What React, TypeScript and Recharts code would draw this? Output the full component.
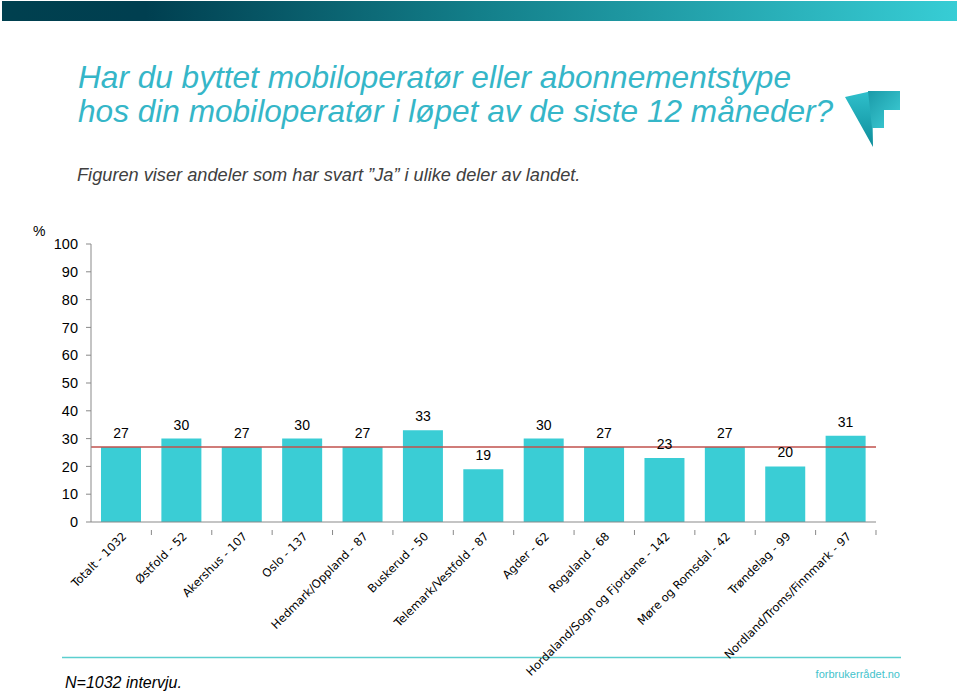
import React from "react";
import { BarChart, Bar, XAxis, YAxis, ReferenceLine, LabelList } from "recharts";

const regions = [
  "Totalt - 1032",
  "Østfold - 52",
  "Akershus - 107",
  "Oslo - 137",
  "Hedmark/Oppland - 87",
  "Buskerud - 50",
  "Telemark/Vestfold - 87",
  "Agder - 62",
  "Rogaland - 68",
  "Hordaland/Sogn og Fjordane - 142",
  "Møre og Romsdal - 42",
  "Trøndelag - 99",
  "Nordland/Troms/Finnmark - 97",
];
const andelJa = [27, 30, 27, 30, 27, 33, 19, 30, 27, 23, 27, 20, 31];
const totalt = 27;
const yTicks = [0, 10, 20, 30, 40, 50, 60, 70, 80, 90, 100];

const data = regions.map((r, i) => ({ region: r, ja: andelJa[i] }));

// plot area
const PLOT_LEFT = 91;
const PLOT_RIGHT = 876;
const BAND = (PLOT_RIGHT - PLOT_LEFT) / regions.length;

const RegionTick = (props: any) => {
  const { x, y, payload } = props;
  return (
    <g transform={`translate(${x},${y})`}>
      <line x1={BAND / 2} y1={0} x2={BAND / 2} y2={5} stroke="#898989" />
      <text
        x={0}
        y={0}
        transform="translate(6,7) rotate(-45)"
        textAnchor="end"
        fontFamily="DejaVu Sans, Verdana, sans-serif"
        fontSize={11.5}
        fill="#000"
      >
        {payload.value}
      </text>
    </g>
  );
};

export default function App() {
  return (
    <div style={{ position: "absolute", left: 0, top: 0, width: 960, height: 693, background: "#fff", overflow: "hidden" }}>
      <svg width={960} height={693} style={{ position: "absolute", left: 0, top: 0 }}>
        <defs>
          <linearGradient id="topbar" x1="0" y1="0" x2="1" y2="0">
            <stop offset="0" stopColor="#00404f" />
            <stop offset="0.15" stopColor="#003f50" />
            <stop offset="0.5" stopColor="#137f8a" />
            <stop offset="1" stopColor="#37cdd5" />
          </linearGradient>
          <linearGradient id="logoA" x1="0" y1="0" x2="0" y2="1">
            <stop offset="0" stopColor="#2fc0cc" />
            <stop offset="1" stopColor="#0e8d9a" />
          </linearGradient>
          <linearGradient id="logoB" x1="0" y1="0" x2="1" y2="1">
            <stop offset="0" stopColor="#1a9aa8" />
            <stop offset="1" stopColor="#40d0d8" />
          </linearGradient>
        </defs>
        <rect x={2} y={1} width={955} height={20} fill="url(#topbar)" />

        <g fontFamily="Liberation Sans, Arial, sans-serif" fontStyle="italic">
          <text x={78} y={88} fontSize={31.6} fill="#35b6c8">
            Har du byttet mobiloperatør eller abonnementstype
          </text>
          <text x={78} y={122} fontSize={31.6} fill="#35b6c8">
            hos din mobiloperatør i løpet av de siste 12 måneder?
          </text>
          <text x={77} y={181} fontSize={18.2} fill="#404040">
            Figuren viser andeler som har svart ”Ja” i ulike deler av landet.
          </text>
        </g>

        {/* logo */}
        <path d="M845,97 L872,91 L873,147 Q858,120 845,97 Z" fill="url(#logoA)" />
        <path d="M868,91 L900,91 L900,110 L884,110 L884,128 L872,128 Z" fill="url(#logoB)" />

        <text x={33} y={236} fontFamily="Liberation Sans, Arial, sans-serif" fontSize={14} fill="#000">
          %
        </text>

        <line x1={62} y1={657.5} x2={901} y2={657.5} stroke="#5ccfcf" strokeWidth={1.5} />
        <text x={65} y={688} fontFamily="Liberation Sans, Arial, sans-serif" fontStyle="italic" fontSize={16} fill="#000">
          N=1032 intervju.
        </text>
        <text
          x={900}
          y={678}
          textAnchor="end"
          fontFamily="Liberation Sans Narrow, Liberation Sans, Arial, sans-serif"
          fontSize={11}
          fill="#44c3cc"
        >
          forbrukerrådet.no
        </text>
      </svg>

      <div style={{ position: "absolute", left: 0, top: 0 }}>
        <BarChart
          width={960}
          height={693}
          data={data}
          margin={{ top: 244, right: 960 - PLOT_RIGHT, left: PLOT_LEFT - 40, bottom: 0 }}
        >
          <YAxis
            width={40}
            domain={[0, 100]}
            ticks={yTicks}
            interval={0}
            tickSize={5}
            tickMargin={8}
            stroke="#898989"
            tick={{ fill: "#000", fontSize: 14.5, fontFamily: "Liberation Sans, Arial, sans-serif" }}
          />
          <XAxis
            dataKey="region"
            height={171}
            interval={0}
            tickLine={false}
            stroke="#898989"
            tick={<RegionTick />}
          />
          <Bar dataKey="ja" fill="#3acdd5" barSize={40} isAnimationActive={false}>
            <LabelList
              dataKey="ja"
              position="top"
              offset={9}
              fill="#000"
              fontSize={14}
              fontFamily="Liberation Sans, Arial, sans-serif"
            />
          </Bar>
          <ReferenceLine y={totalt} stroke="#c0504d" strokeWidth={1.5} ifOverflow="extendDomain" />
        </BarChart>
      </div>
    </div>
  );
}
